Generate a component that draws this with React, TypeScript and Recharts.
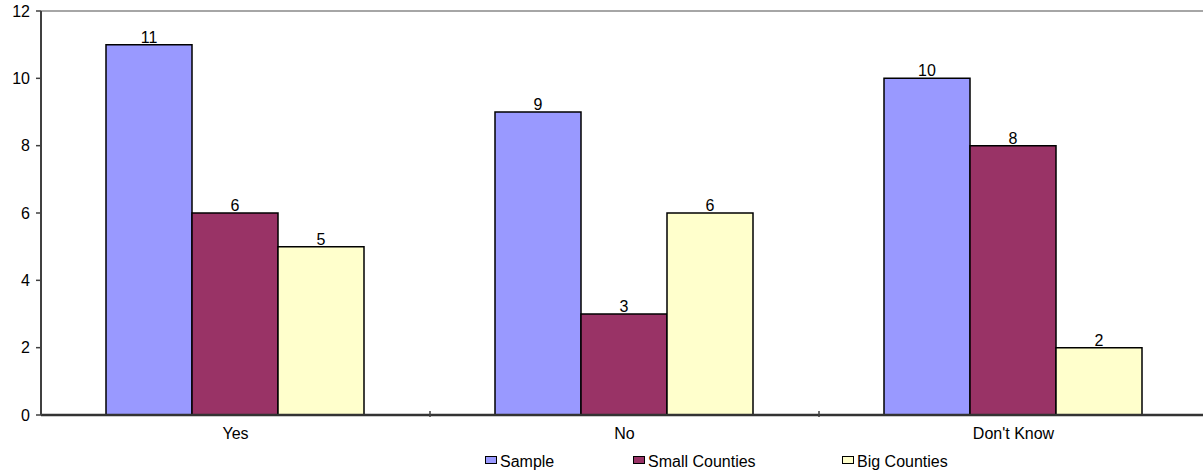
import { BarChart, Bar, XAxis, YAxis, LabelList, ReferenceLine, Legend } from 'recharts'

const categories = ['Yes', 'No', "Don't Know"]
const sample = [11, 9, 10]
const smallCounties = [6, 3, 8]
const bigCounties = [5, 6, 2]
const yTicks = [0, 2, 4, 6, 8, 10, 12]

const series = [
    { key: 'sample', name: 'Sample', color: '#9999FF' },
    { key: 'small', name: 'Small Counties', color: '#993366' },
    { key: 'big', name: 'Big Counties', color: '#FFFFCC' },
]

const data = categories.map((c, i) => ({
    cat: c,
    sample: sample[i],
    small: smallCounties[i],
    big: bigCounties[i],
}))

const font = 'Arial, "Liberation Sans", sans-serif'

// category label + separator tick at the right edge of each band
function CatTick(props: any) {
    const { x, y, payload, index } = props
    const half = payload?.offset || 0
    const axisY = y - 14
    return (
        <g>
            {index < categories.length - 1 && half > 0 && (
                <line x1={x + half} x2={x + half} y1={axisY} y2={axisY + 6} stroke="#404040" strokeWidth={1.5} />
            )}
            <text x={x} y={y + 14} textAnchor="middle" fill="#000" fontSize={16} fontFamily={font}>
                {payload.value}
            </text>
        </g>
    )
}

function LegendBox() {
    const widths = [148, 209, 200]
    return (
        <div style={{ display: 'flex', paddingLeft: 485, paddingTop: 10, fontFamily: font, fontSize: '16px', color: '#000' }}>
            {series.map((s, i) => (
                <div key={s.key} style={{ width: widths[i], display: 'flex', alignItems: 'center' }}>
                    <div style={{ width: 10, height: 6, background: s.color, border: '1.5px solid #000', marginRight: 3, marginTop: -4 }} />
                    <span>{s.name}</span>
                </div>
            ))}
        </div>
    )
}

export default function App() {
    return (
        <div style={{ position: 'absolute', left: 0, top: 0, background: '#fff' }}>
            <BarChart
                width={1203}
                height={473}
                data={data}
                margin={{ top: 11, right: -5, left: 0, bottom: 0 }}
                barCategoryGap={65}
                barGap={0}
            >
                <XAxis
                    dataKey="cat"
                    height={28}
                    tickLine={false}
                    axisLine={{ stroke: '#333', strokeWidth: 2.5 }}
                    tickMargin={4}
                    tick={<CatTick />}
                />
                <YAxis
                    domain={[0, 12]}
                    ticks={yTicks}
                    width={41}
                    tickSize={5}
                    tickMargin={6}
                    tickLine={{ stroke: '#404040', strokeWidth: 1.5 }}
                    axisLine={{ stroke: '#404040', strokeWidth: 2 }}
                    tick={{ fill: '#000', fontSize: 16, fontFamily: font }}
                />
                <ReferenceLine y={12} stroke="#888" strokeWidth={1.5} />
                {series.map((s) => (
                    <Bar
                        key={s.key}
                        dataKey={s.key}
                        name={s.name}
                        fill={s.color}
                        stroke="#000"
                        strokeWidth={1.5}
                        isAnimationActive={false}
                    >
                        <LabelList dataKey={s.key} position="top" offset={2} fill="#000" fontSize={16} fontFamily={font} />
                    </Bar>
                ))}
                <Legend verticalAlign="bottom" height={30} content={() => <LegendBox />} />
            </BarChart>
        </div>
    )
}
